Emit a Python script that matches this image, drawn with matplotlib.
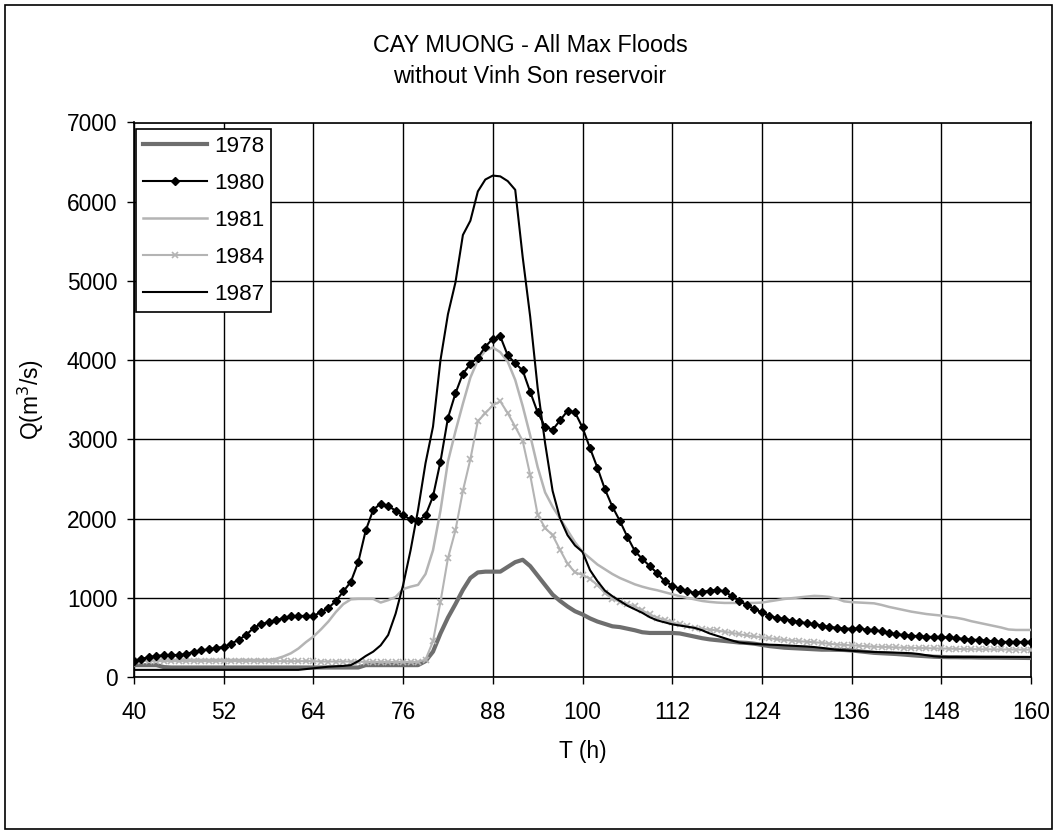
import matplotlib.pyplot as plt
from matplotlib.patches import Rectangle

plt.rcParams['font.family'] = ['Liberation Sans', 'DejaVu Sans']

hours = list(range(40, 161))

q_1978 = [150, 150, 150, 150, 125, 120, 120, 120, 120, 120,
          120, 120, 120, 120, 120, 120, 120, 120, 120, 120,
          120, 120, 120, 120, 120, 120, 120, 120, 120, 120,
          120, 150, 150, 150, 150, 150, 150, 150, 150, 200,
          320, 550, 750, 920, 1100, 1250, 1320, 1330, 1330, 1330,
          1390, 1450, 1480, 1400, 1280, 1160, 1040, 960, 890, 830,
          790, 740, 700, 670, 640, 630, 610, 590, 565, 556,
          556, 556, 556, 550, 530, 510, 490, 475, 465, 455,
          445, 435, 430, 420, 405, 390, 380, 370, 365, 360,
          355, 350, 345, 345, 343, 341, 335, 325, 315, 305,
          300, 295, 290, 283, 275, 268, 262, 256, 253, 250,
          250, 248, 248, 246, 245, 245, 244, 243, 242, 241,
          240]

q_1980 = [200, 230, 250, 265, 275, 278, 278, 290, 320, 335,
          350, 367, 380, 420, 470, 530, 620, 670, 690, 715,
          745, 770, 771, 771, 771, 820, 870, 960, 1080, 1200,
          1450, 1850, 2110, 2190, 2160, 2100, 2040, 1990, 1970, 2040,
          2280, 2720, 3270, 3580, 3830, 3950, 4030, 4170, 4270, 4300,
          4060, 3960, 3870, 3600, 3340, 3160, 3120, 3240, 3360, 3340,
          3150, 2890, 2640, 2370, 2150, 1970, 1770, 1590, 1490, 1400,
          1310, 1210, 1155, 1115, 1080, 1065, 1075, 1090, 1100, 1080,
          1020, 960, 905, 860, 815, 775, 745, 733, 712, 695,
          678, 665, 650, 632, 622, 612, 610, 615, 598, 594,
          575, 556, 540, 530, 522, 515, 508, 506, 506, 500,
          490, 480, 472, 468, 460, 450, 443, 443, 443, 443,
          443]

q_1981 = [215, 215, 215, 215, 215, 215, 215, 215, 215, 215,
          215, 215, 215, 215, 215, 215, 215, 215, 215, 230,
          260, 300, 360, 440, 510, 600, 700, 820, 920, 980,
          986, 986, 986, 940, 970, 1010, 1110, 1140, 1163, 1300,
          1600, 2100, 2720, 3100, 3450, 3780, 4000, 4120, 4160, 4100,
          3980, 3750, 3420, 3050, 2650, 2330, 2150, 2000, 1850, 1700,
          1580, 1500, 1420, 1360, 1300, 1250, 1210, 1170, 1140, 1115,
          1095, 1070, 1045, 1020, 1000, 980, 960, 948, 940, 935,
          935, 935, 935, 935, 940, 955, 970, 985, 995, 1005,
          1015, 1024, 1020, 1011, 990, 955, 945, 940, 935, 930,
          910, 885, 865, 845, 825, 810, 795, 785, 775, 760,
          748, 730, 705, 685, 665, 645, 625, 600, 594, 594,
          594]

q_1984 = [205, 205, 200, 200, 200, 200, 200, 200, 200, 200,
          200, 200, 200, 200, 200, 200, 200, 200, 200, 200,
          200, 200, 200, 200, 200, 195, 195, 195, 195, 195,
          195, 190, 190, 190, 190, 190, 190, 190, 190, 220,
          450, 950, 1500, 1850, 2350, 2750, 3230, 3330, 3430, 3480,
          3330, 3160, 2980, 2550, 2050, 1880, 1790, 1605, 1430, 1320,
          1290, 1240, 1160, 1060, 990, 950, 920, 890, 840, 790,
          750, 720, 690, 665, 640, 620, 608, 598, 588, 570,
          556, 540, 525, 512, 503, 490, 478, 468, 460, 452,
          445, 440, 430, 420, 410, 405, 400, 395, 388, 382,
          380, 377, 373, 370, 367, 365, 364, 362, 360, 358,
          355, 353, 352, 350, 350, 349, 348, 347, 346, 345,
          345]

q_1987 = [90, 90, 90, 90, 90, 90, 90, 90, 90, 90,
          90, 90, 90, 90, 90, 90, 90, 90, 90, 90,
          90, 90, 90, 100, 110, 120, 130, 135, 140, 150,
          200, 265, 320, 400, 530, 800, 1160, 1600, 2110, 2700,
          3160, 4000, 4580, 4980, 5580, 5760, 6130, 6280, 6330, 6320,
          6260, 6150, 5300, 4550, 3650, 2950, 2350, 2000, 1790, 1660,
          1580, 1350, 1210, 1090, 1020, 960, 900, 855, 810, 755,
          715, 690, 665, 650, 635, 620, 590, 550, 520, 490,
          460, 435, 425, 418, 413, 408, 405, 400, 395, 390,
          385, 378, 368, 355, 343, 337, 330, 325, 320, 316,
          313, 310, 307, 304, 300, 290, 275, 262, 255, 253,
          253, 253, 253, 253, 253, 253, 253, 253, 253, 253,
          253]

x_ticks = list(range(40, 161, 12))
y_ticks = list(range(0, 7001, 1000))

W, H = 1058, 834
fig = plt.figure(figsize=(W / 100, H / 100), dpi=100)
ax = fig.add_axes([134 / W, 1 - 677 / H, 897 / W, 554.5 / H])

ax.plot(hours, q_1978, color='#6e6e6e', lw=3.0, label='1978', zorder=3)
ax.plot(hours, q_1980, color='black', lw=1.5, marker='D', ms=3.8,
        label='1980', zorder=4)
ax.plot(hours, q_1981, color='#b4b4b4', lw=1.8, label='1981', zorder=3)
ax.plot(hours, q_1984, color='#b4b4b4', lw=1.5, marker='x', ms=4,
        mew=1.2, label='1984', zorder=3)
ax.plot(hours, q_1987, color='black', lw=1.5, label='1987', zorder=5)

ax.set_xlim(40, 160)
ax.set_ylim(0, 7000)
ax.set_xticks(x_ticks)
ax.set_yticks(y_ticks)
ax.grid(True, color='black', lw=1.0)
ax.set_axisbelow(True)
ax.tick_params(labelsize=16.4, direction='out', length=5, width=1)
ax.tick_params(axis='x', pad=12)
ax.tick_params(axis='y', pad=7)
for sp in ax.spines.values():
    sp.set_linewidth(1.2)

ax.set_xlabel('T (h)', fontsize=16.4, labelpad=12)
ax.set_ylabel('Q(m$^3$/s)', fontsize=16.4, labelpad=15)

fig.text(530 / W, 1 - 45 / H, 'CAY MUONG - All Max Floods', ha='center',
         va='center', fontsize=16.8)
fig.text(530 / W, 1 - 76.7 / H, 'without Vinh Son reservoir', ha='center',
         va='center', fontsize=16.8)

leg = ax.legend(loc='upper left', bbox_to_anchor=(136 / W, 1 - 129 / H),
                bbox_transform=fig.transFigure, fontsize=16.2, frameon=True,
                fancybox=False, borderaxespad=0, handlelength=2.85,
                handletextpad=0.3, labelspacing=0.71, borderpad=0.31)
leg.get_frame().set_edgecolor('black')
leg.get_frame().set_linewidth(1.2)
leg.get_frame().set_alpha(1)

fig.patches.append(Rectangle((5 / W, 5 / H), 1047 / W, 824 / H,
                             transform=fig.transFigure, fill=False,
                             edgecolor='black', lw=1.2))

fig.savefig('out.png', dpi=100)
